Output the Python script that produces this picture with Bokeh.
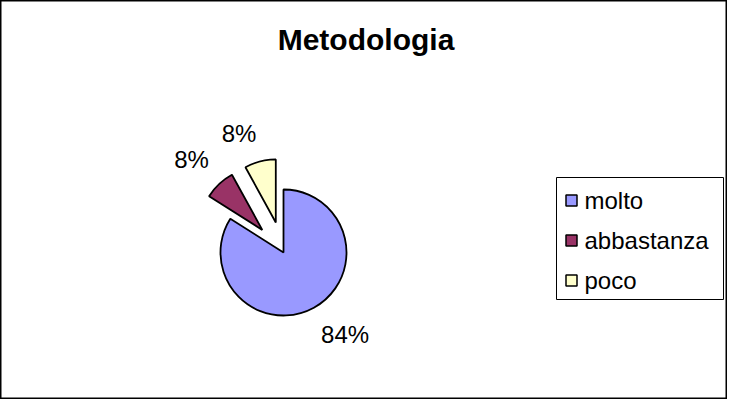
import math
from bokeh.plotting import figure
from bokeh.models import Range1d
from bokeh.core.properties import value
from bokeh.embed import file_html
from bokeh.resources import INLINE

# ---- data ----
title_text = "Metodologia"
categories = ["molto", "abbastanza", "poco"]
counts = [21, 2, 2]
colors = ["#9999FF", "#993366", "#FFFFCC"]

# ---- layout ----
W, H = 727, 399
FONT = "Liberation Sans"
cx, cy = 283, H - 252       # pie centre (data = pixels, y up)
R = 63
explode = [0, 31, 31]
label_r = 78

p = figure(width=W, height=H, output_backend="svg", toolbar_location=None,
           x_range=Range1d(0, W), y_range=Range1d(0, H),
           x_axis_type=None, y_axis_type=None,
           min_border=0, min_border_left=0, min_border_right=0,
           min_border_top=0, min_border_bottom=0)
p.grid.visible = False
p.outline_line_color = "black"
p.outline_line_width = 2
p.background_fill_color = "white"
p.border_fill_color = "white"

total = sum(counts)
cum = 0
for v, col, ex in zip(counts, colors, explode):
    a0 = cum / total * 2 * math.pi          # clockwise from 12 o'clock
    a1 = (cum + v) / total * 2 * math.pi
    cum += v
    mid = (a0 + a1) / 2
    dx, dy = math.sin(mid), math.cos(mid)
    vx, vy = cx + ex * dx, cy + ex * dy
    p.wedge(x=[vx], y=[vy], radius=R,
            start_angle=math.pi / 2 - a1, end_angle=math.pi / 2 - a0,
            fill_color=col, line_color="black", line_width=1.8)
    lx, ly = vx + label_r * dx, vy + label_r * dy
    pct = f"{round(v / total * 100)}%"
    p.text(x=[lx], y=[ly], text=[pct],
           text_align="left" if dx > 0 else "right",
           text_baseline="top" if dy < 0 else "bottom",
           text_font=value(FONT), text_font_size="24px", text_color="black")

# title
p.text(x=[W / 2 + 2], y=[H - 39], text=[title_text], text_align="center",
       text_baseline="alphabetic", text_font=value(FONT),
       text_font_size="30px", text_font_style="bold", text_color="black")

# legend (manual)
lg_left, lg_right = 556, 723
lg_top, lg_bottom = H - 177, H - 299
p.quad(left=[lg_left], right=[lg_right], top=[lg_top], bottom=[lg_bottom],
       fill_color="white", line_color="black", line_width=1)
entry_y = [H - 200, H - 240, H - 280]
for name, col, ey in zip(categories, colors, entry_y):
    p.rect(x=[lg_left + 15], y=[ey], width=11, height=11,
           fill_color=col, line_color="black", line_width=1.5)
    p.text(x=[lg_left + 28], y=[ey], text=[name], text_align="left",
           text_baseline="middle", text_font=value(FONT),
           text_font_size="24px", text_color="black")

open("out.html", "w").write(file_html(p, INLINE))
